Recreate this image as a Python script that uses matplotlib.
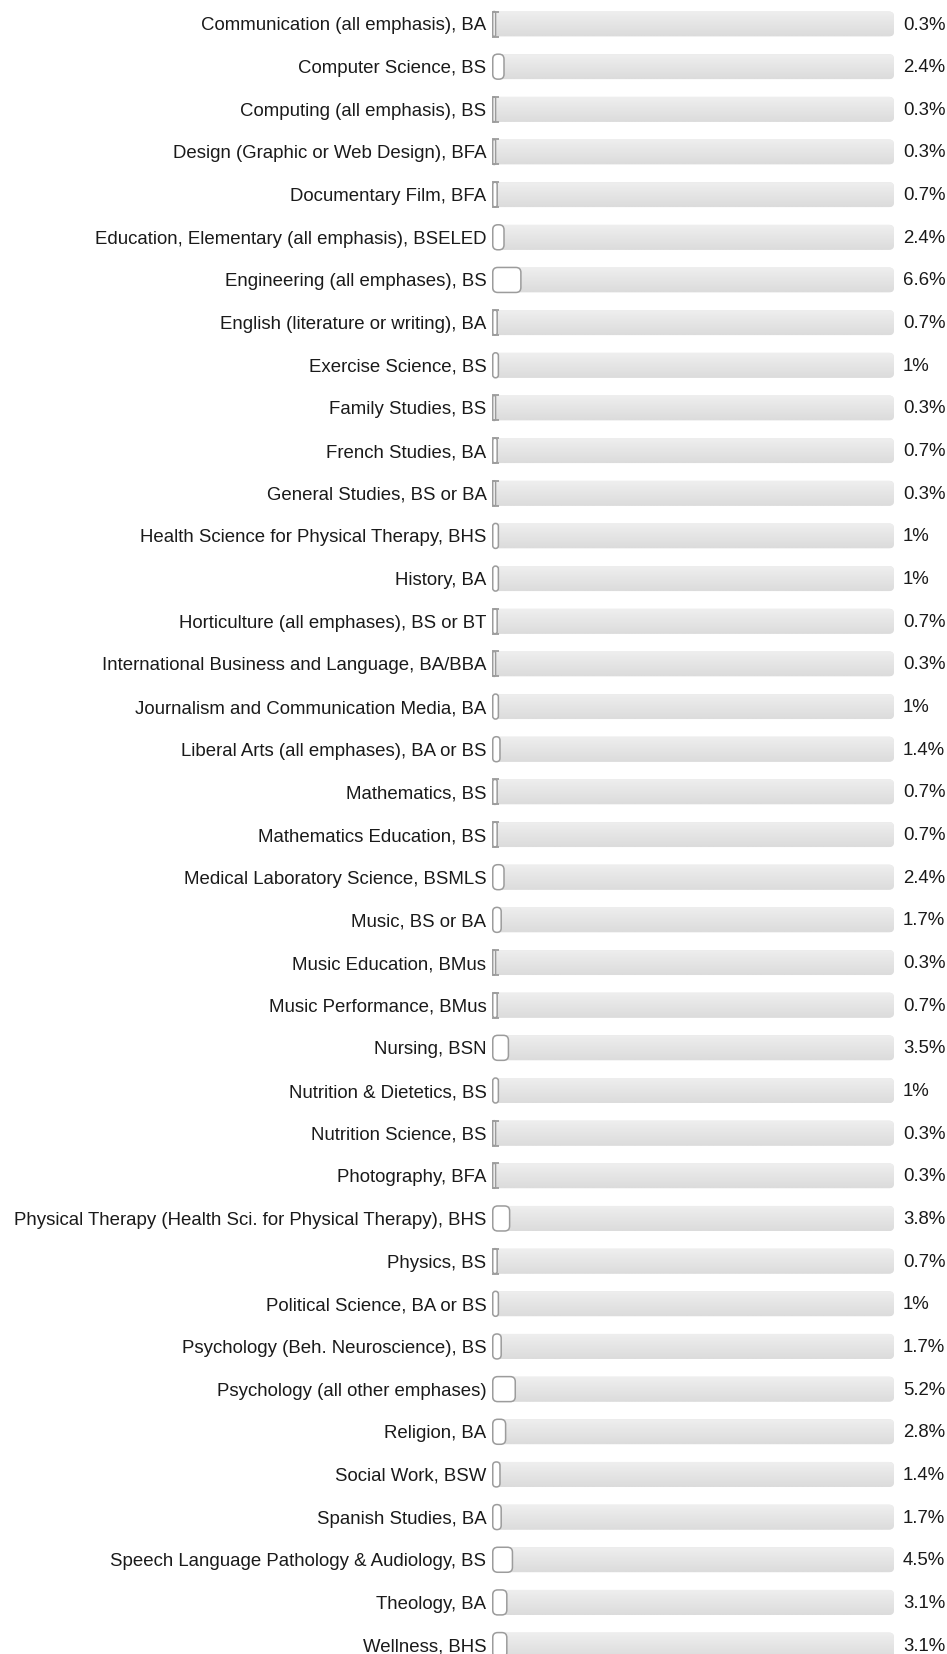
import matplotlib
matplotlib.use("Agg")
import matplotlib.pyplot as plt
import matplotlib.transforms as mtransforms
from matplotlib.patches import FancyBboxPatch
import numpy as np

plt.rcParams['font.family'] = ['Liberation Sans', 'DejaVu Sans']

majors = [
    "Communication (all emphasis), BA",
    "Computer Science, BS",
    "Computing (all emphasis), BS",
    "Design (Graphic or Web Design), BFA",
    "Documentary Film, BFA",
    "Education, Elementary (all emphasis), BSELED",
    "Engineering (all emphases), BS",
    "English (literature or writing), BA",
    "Exercise Science, BS",
    "Family Studies, BS",
    "French Studies, BA",
    "General Studies, BS or BA",
    "Health Science for Physical Therapy, BHS",
    "History, BA",
    "Horticulture (all emphases), BS or BT",
    "International Business and Language, BA/BBA",
    "Journalism and Communication Media, BA",
    "Liberal Arts (all emphases), BA or BS",
    "Mathematics, BS",
    "Mathematics Education, BS",
    "Medical Laboratory Science, BSMLS",
    "Music, BS or BA",
    "Music Education, BMus",
    "Music Performance, BMus",
    "Nursing, BSN",
    "Nutrition & Dietetics, BS",
    "Nutrition Science, BS",
    "Photography, BFA",
    "Physical Therapy (Health Sci. for Physical Therapy), BHS",
    "Physics, BS",
    "Political Science, BA or BS",
    "Psychology (Beh. Neuroscience), BS",
    "Psychology (all other emphases)",
    "Religion, BA",
    "Social Work, BSW",
    "Spanish Studies, BA",
    "Speech Language Pathology & Audiology, BS",
    "Theology, BA",
    "Wellness, BHS",
]
percents = [0.3, 2.4, 0.3, 0.3, 0.7, 2.4, 6.6, 0.7, 1, 0.3,
            0.7, 0.3, 1, 1, 0.7, 0.3, 1, 1.4, 0.7, 0.7,
            2.4, 1.7, 0.3, 0.7, 3.5, 1, 0.3, 0.3, 3.8, 0.7,
            1, 1.7, 5.2, 2.8, 1.4, 1.7, 4.5, 3.1, 3.1]

W, H = 947, 1654
row_px = 42.66
first_px = 24
fig = plt.figure(figsize=(W / 100, H / 100), dpi=100)
ax = fig.add_axes([492 / W, 0, 402 / W, 1])
for s in ax.spines.values():
    s.set_visible(False)
ax.set_xticks([])

n = len(majors)
ax.set_yticks(range(n))
ax.set_yticklabels(majors, fontsize=13.45, color="#1a1a1a")
ax.tick_params(axis="y", length=0, pad=4)

# axis units per pixel, for rounding corners
xu = 100 / 402
yu = 1 / row_px
asp = yu / xu
bar_h = 25 * yu
edge = "#9c9c9c"

grad = np.linspace(0.935, 0.86, 50).reshape(-1, 1)

for i, v in enumerate(percents):
    track = FancyBboxPatch((0, i - bar_h / 2), 100, bar_h,
                           boxstyle=f"round,pad=0,rounding_size={5 * xu}",
                           mutation_aspect=asp, facecolor="#e3e3e3",
                           edgecolor="none", zorder=1)
    ax.add_patch(track)
    im = ax.imshow(grad, cmap="gray", vmin=0, vmax=1, aspect="auto",
                   extent=(0, 100, i + bar_h / 2, i - bar_h / 2), zorder=1.5,
                   interpolation="bilinear")
    im.set_clip_path(track)

    w = v + 1.6 * xu
    r = min(5 * xu, w / 2)
    ax.add_patch(FancyBboxPatch((0.75 * xu, i - bar_h / 2), w, bar_h,
                                boxstyle=f"round,pad=0,rounding_size={r}",
                                mutation_aspect=asp, facecolor="white",
                                edgecolor=edge, linewidth=1.1, zorder=3))
    if v < 1:
        ax.hlines([i - bar_h / 2, i + bar_h / 2], 0, 7 * xu, colors=edge,
                  linewidth=1.3, zorder=3)

    off = mtransforms.offset_copy(ax.transData, fig=fig, x=9, y=-1, units="dots")
    ax.text(100, i, f"{v:g}%", transform=off, ha="left", va="center",
            fontsize=13.45, color="#1a1a1a", clip_on=False)

ax.set_xlim(0, 100)
ax.set_ylim((H - first_px) / row_px, -first_px / row_px)
fig.savefig("out.png", dpi=100)
